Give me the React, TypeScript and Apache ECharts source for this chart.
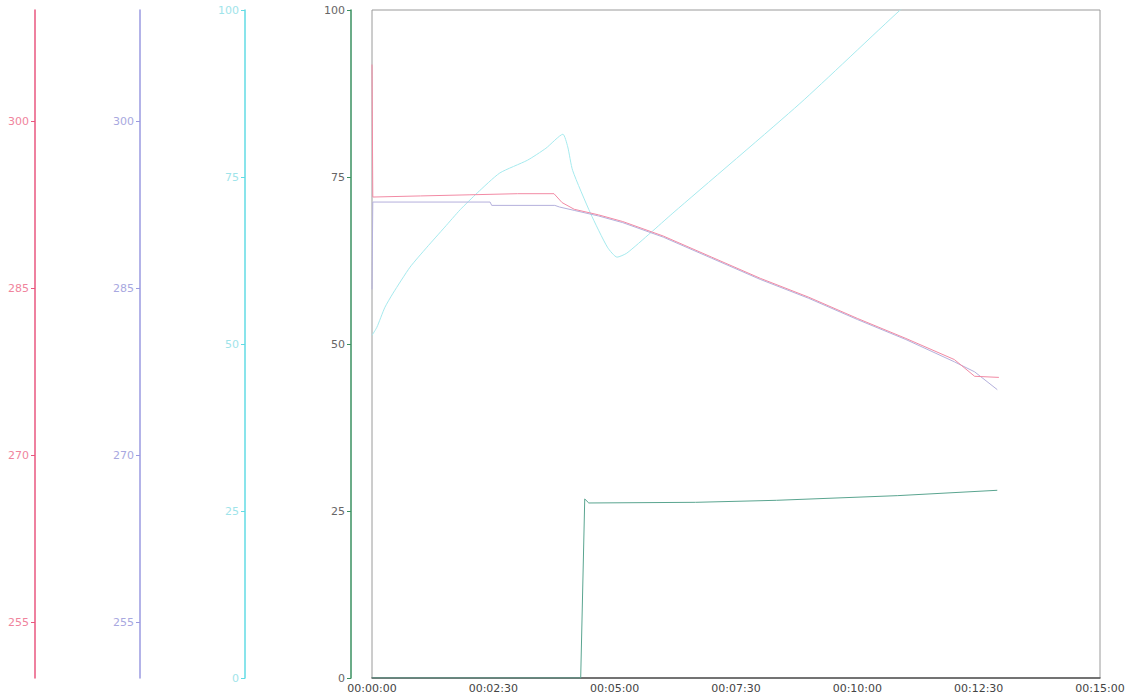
import React, { useEffect, useRef } from "react";
import * as echarts from "echarts";

// time in seconds, values in each series' own axis units
const redT = [0, 1, 60, 120, 180, 225, 235, 250, 280, 310, 360, 420, 480, 540, 600, 660, 720, 745, 775];
const redV = [305.1, 293.2, 293.3, 293.4, 293.5, 293.5, 292.7, 292.1, 291.6, 291.0, 289.7, 287.8, 285.9, 284.2, 282.3, 280.5, 278.6, 277.1, 277.0];

const purpleT = [0, 1, 146, 148, 226, 232, 250, 280, 310, 360, 420, 480, 540, 600, 660, 720, 745, 773];
const purpleV = [284.9, 292.75, 292.75, 292.45, 292.45, 292.3, 292.0, 291.5, 290.9, 289.6, 287.7, 285.8, 284.1, 282.2, 280.4, 278.4, 277.5, 275.9];

const cyanT = [0, 6, 16, 26, 47, 68, 90, 109, 130, 158, 192, 215, 236, 242, 248, 270, 291, 303, 315, 344, 372, 529, 653, 770];
const cyanV = [51.3, 52.5, 55.5, 57.6, 61.5, 64.5, 67.5, 70.1, 72.6, 75.6, 77.5, 79.3, 81.4, 79.5, 76.0, 69.6, 64.5, 63.0, 63.6, 66.6, 69.6, 86.0, 100, 112.6];

const greenT = [0, 258, 263, 268, 400, 500, 650, 773];
const greenV = [0, 0, 26.8, 26.2, 26.3, 26.6, 27.3, 28.1];

const tempTicks = [255, 270, 285, 300];

const pair = (t: number[], v: number[]) => t.map((x, i) => [x, v[i]]);

const fmtTime = (s: number) => {
  const h = Math.floor(s / 3600);
  const m = Math.floor((s % 3600) / 60);
  const sec = Math.floor(s % 60);
  const p = (n: number) => String(n).padStart(2, "0");
  return `${p(h)}:${p(m)}:${p(sec)}`;
};

const RED = "#e9577f";
const PURPLE = "#9a9ae0";
const CYAN = "#62dbe4";
const GREEN = "#3a9160";

function yAx(color: string, labelColor: string, offset: number, kind: "temp" | "pct") {
  const base: any = {
    type: "value",
    position: "left",
    offset,
    axisLine: { show: true, onZero: false, lineStyle: { color, width: 1.5 } },
    axisTick: { show: true, length: 4, lineStyle: { color, width: 1 } },
    axisLabel: { color: labelColor, fontSize: 11, margin: 6, fontFamily: "DejaVu Sans" },
    splitLine: { show: false },
  };
  if (kind === "temp") {
    base.min = 250;
    base.max = 310;
    base.axisLabel.customValues = tempTicks;
    base.axisTick.customValues = tempTicks;
  } else {
    base.min = 0;
    base.max = 100;
    base.interval = 25;
  }
  return base;
}

export default function App() {
  const ref = useRef<HTMLDivElement>(null);
  useEffect(() => {
    if (!ref.current) return;
    const chart = echarts.init(ref.current, undefined, { renderer: "svg" });
    chart.setOption({
      animation: false,
      backgroundColor: "#ffffff",
      grid: {
        left: 372,
        right: 30,
        top: 10,
        bottom: 21,
        show: true,
        borderColor: "#9a9a9a",
        borderWidth: 1,
      },
      xAxis: {
        type: "value",
        min: 0,
        max: 900,
        interval: 150,
        axisLine: { show: true, onZero: false, lineStyle: { color: "#555", width: 1.5 } },
        axisTick: { show: false },
        splitLine: { show: false },
        axisLabel: {
          color: "#444",
          fontSize: 11,
          margin: 5,
          fontFamily: "DejaVu Sans",
          formatter: (v: number) => fmtTime(v),
        },
      },
      yAxis: [
        yAx(RED, "#f0849c", 337, "temp"),
        yAx(PURPLE, "#a8a8e0", 232, "temp"),
        yAx(CYAN, "#9fe4ea", 127, "pct"),
        yAx(GREEN, "#666", 21, "pct"),
      ],
      series: [
        {
          type: "line",
          yAxisIndex: 0,
          data: pair(redT, redV),
          showSymbol: false,
          lineStyle: { color: "#f28aa4", width: 1 },
          z: 4,
        },
        {
          type: "line",
          yAxisIndex: 1,
          data: pair(purpleT, purpleV),
          showSymbol: false,
          lineStyle: { color: "#b4b0dc", width: 1 },
          z: 3,
        },
        {
          type: "line",
          yAxisIndex: 2,
          data: pair(cyanT, cyanV),
          showSymbol: false,
          smooth: 0.2,
          lineStyle: { color: "#a6eaee", width: 1 },
          z: 2,
        },
        {
          type: "line",
          yAxisIndex: 3,
          data: pair(greenT, greenV),
          showSymbol: false,
          lineStyle: { color: "#5aa590", width: 1 },
          z: 2,
        },
      ],
    });
    return () => chart.dispose();
  }, []);
  return (
    <div
      ref={ref}
      style={{ position: "fixed", left: 0, top: 0, width: 1130, height: 699 }}
    />
  );
}
